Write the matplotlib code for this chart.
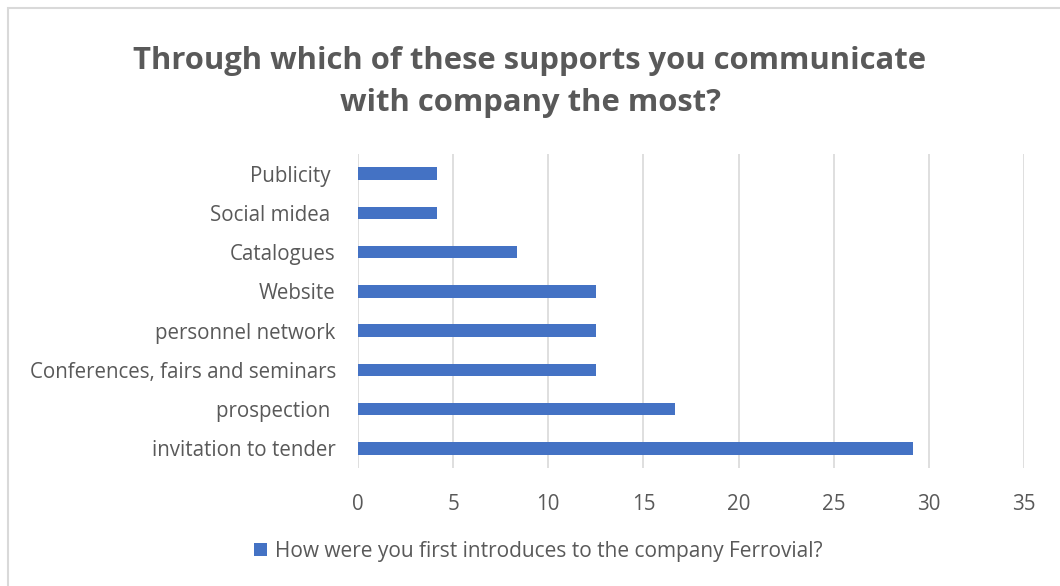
import matplotlib.pyplot as plt
import matplotlib.patches as mpatches
from matplotlib import font_manager

# survey answers (% of respondents)
categories = ['invitation to tender', 'prospection ', 'Conferences, fairs and seminars',
              'personnel network', 'Website', 'Catalogues', 'Social midea ', 'Publicity ']
values = [29.17, 16.67, 12.5, 12.5, 12.5, 8.33, 4.17, 4.17]
xticks = [0, 5, 10, 15, 20, 25, 30, 35]
series_name = 'How were you first introduces to the company Ferrovial?'
title = 'Through which of these supports you communicate\nwith company the most?'

BLUE = '#4472C4'
TEXT = '#595959'
GRID = '#D9D9D9'

names = {f.name for f in font_manager.fontManager.ttflist}
body_font = 'Open Sans' if 'Open Sans' in names else 'DejaVu Sans'

fig = plt.figure(figsize=(10.6, 5.86), dpi=100)
ax = fig.add_axes([358 / 1060, 1 - 468 / 586, 666 / 1060, 314 / 586])

# outer chart frame
fig.patches.append(mpatches.Rectangle((8 / 1060, -0.01), 1.0, 1 - 8 / 586 + 0.01,
                                      transform=fig.transFigure, fill=False,
                                      edgecolor=GRID, lw=1.5))

y = range(len(categories))
ax.barh(y, values, height=0.32, color=BLUE, zorder=3, label=series_name)

ax.set_xlim(0, 35)
ax.set_ylim(-0.5, len(categories) - 0.5)
ax.set_xticks(xticks)
ax.set_yticks(list(y))
ax.set_yticklabels(categories)
ax.grid(axis='x', color=GRID, lw=1.2, zorder=0)
for s in ax.spines.values():
    s.set_visible(False)
ax.tick_params(length=0, labelsize=14.8, labelcolor=TEXT)
ax.tick_params(axis='y', pad=16)
ax.tick_params(axis='x', pad=19)
for lbl in ax.get_xticklabels() + ax.get_yticklabels():
    lbl.set_fontfamily(body_font)

fig.text(0.5, 1 - 82 / 586, title, ha='center', va='center', fontsize=22.3,
         fontweight='bold', color=TEXT, family=body_font, linespacing=1.5)

leg = fig.legend(loc='center', bbox_to_anchor=(0.508, 1 - 551 / 586), frameon=False,
                 prop={'family': body_font, 'size': 15}, handlelength=0.6,
                 handleheight=0.6, handletextpad=0.4)
for t in leg.get_texts():
    t.set_color(TEXT)

fig.savefig('out.png', dpi=100, facecolor='white')
